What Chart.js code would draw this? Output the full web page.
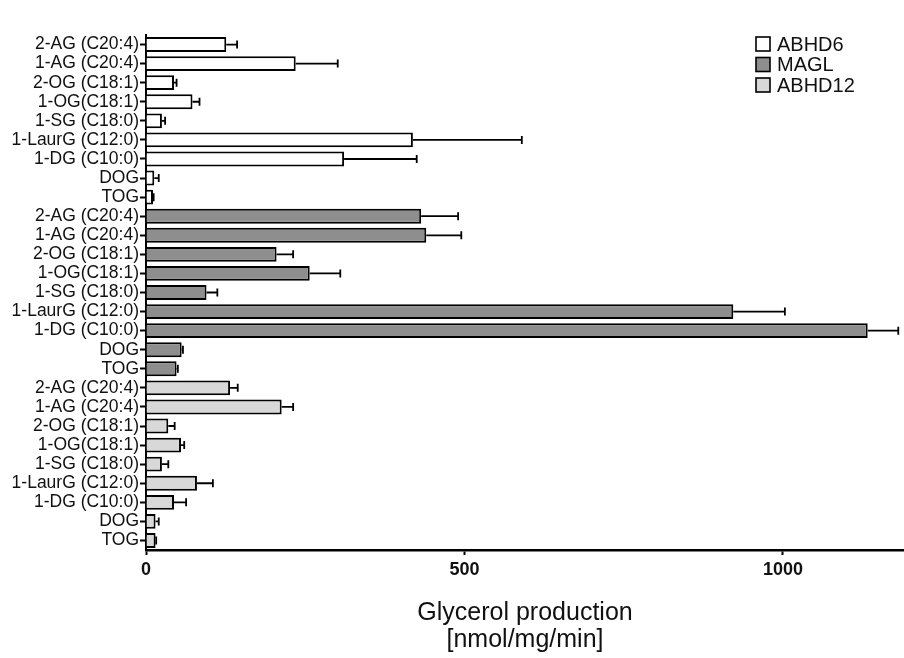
<!DOCTYPE html>
<html>
<head>
<meta charset="utf-8">
<script src="https://cdn.jsdelivr.net/npm/chart.js@4.4.1/dist/chart.umd.min.js"></script>
<style>
  html, body { margin: 0; padding: 0; background: #fff; }
  #wrap { width: 904px; height: 658px; position: relative; }
</style>
</head>
<body>
<div id="wrap"><canvas id="c"></canvas></div>
<script>
const substrates = ['2-AG (C20:4)', '1-AG (C20:4)', '2-OG (C18:1)', '1-OG(C18:1)', '1-SG (C18:0)',
    '1-LaurG (C12:0)', '1-DG (C10:0)', 'DOG', 'TOG'];
const enzymes = ['ABHD6', 'MAGL', 'ABHD12'];

const abhd6 = [126, 235, 44, 73, 25, 419, 311, 13, 11];
const abhd6Err = [17, 66, 4, 11, 5, 171, 114, 7, 1];
const magl = [432, 440, 205, 257, 95, 922, 1133, 56, 48];
const maglErr = [58, 55, 26, 48, 17, 81, 48, 2, 2];
const abhd12 = [132, 213, 35, 55, 25, 80, 44, 15, 15];
const abhd12Err = [12, 18, 10, 5, 10, 25, 19, 5, 1];

const xTicks = [0, 500, 1000];
const xMax = 1190;

const fills = ['#ffffff', '#8e8e8e', '#d8d8d8'];
const FONT = '"Liberation Sans", Arial, Helvetica, sans-serif';

// one row per substrate per enzyme, enzymes stacked top to bottom
const labels = [...substrates, ...substrates, ...substrates];
const pad = (vals, block) => labels.map((_, i) => Math.floor(i / 9) === block ? vals[i % 9] : null);

const values = [abhd6, magl, abhd12];
const errors = [abhd6Err, maglErr, abhd12Err];

const datasets = enzymes.map((name, k) => ({
    label: name,
    data: pad(values[k], k),
    errors: pad(errors[k], k),
    backgroundColor: fills[k],
    borderColor: '#000',
    borderWidth: 2,
    borderSkipped: 'start',
    categoryPercentage: 1,
    barPercentage: 0.78
}));

const errorBars = {
    id: 'errorBars',
    afterDatasetsDraw(chart) {
        const ctx = chart.ctx;
        const xs = chart.scales.x;
        ctx.save();
        ctx.strokeStyle = '#000';
        ctx.lineWidth = 1.8;
        chart.data.datasets.forEach((ds, di) => {
            const meta = chart.getDatasetMeta(di);
            meta.data.forEach((el, i) => {
                const v = ds.data[i];
                if (v === null) return;
                const e = ds.errors[i];
                const x1 = xs.getPixelForValue(v);
                const x2 = xs.getPixelForValue(v + e);
                ctx.beginPath();
                ctx.moveTo(x1, el.y);
                ctx.lineTo(x2, el.y);
                ctx.moveTo(x2, el.y - 4);
                ctx.lineTo(x2, el.y + 4);
                ctx.stroke();
            });
        });
        ctx.restore();
    }
};

// legend in the top right corner, boxes like the bars
const boxLegend = {
    id: 'boxLegend',
    afterDraw(chart) {
        const ctx = chart.ctx;
        ctx.save();
        ctx.font = '20px ' + FONT;
        ctx.textBaseline = 'middle';
        chart.data.datasets.forEach((ds, i) => {
            const y = 44 + i * 20.5;
            ctx.fillStyle = ds.backgroundColor;
            ctx.fillRect(756, y - 7, 14, 14);
            ctx.strokeStyle = '#000';
            ctx.lineWidth = 1.6;
            ctx.strokeRect(756, y - 7, 14, 14);
            ctx.fillStyle = '#111';
            ctx.fillText(ds.label, 777, y + 1);
        });
        ctx.restore();
    }
};

new Chart(document.getElementById('c'), {
    type: 'bar',
    data: { labels, datasets },
    plugins: [errorBars, boxLegend],
    options: {
        indexAxis: 'y',
        responsive: true,
        maintainAspectRatio: false,
        animation: false,
        layout: { padding: { top: 35, right: 0, bottom: 0, left: 0 } },
        plugins: {
            legend: { display: false },
            tooltip: { enabled: false }
        },
        scales: {
            y: {
                stacked: true,
                afterFit(scale) { scale.width = 146; },
                grid: { offset: false, drawOnChartArea: false, tickLength: 6, tickColor: '#000', tickWidth: 2 },
                border: { color: '#000', width: 2 },
                ticks: { color: '#111', padding: 1, autoSkip: false, font: { family: FONT, size: 17.5 } }
            },
            x: {
                stacked: true,
                min: 0,
                max: xMax,
                afterFit(scale) { scale.height = 108; },
                afterBuildTicks(scale) { scale.ticks = xTicks.map(v => ({ value: v })); },
                grid: { drawOnChartArea: false, tickLength: 5, tickColor: '#000', tickWidth: 2 },
                border: { color: '#000', width: 2.5 },
                ticks: {
                    color: '#111', padding: 4,
                    font: { family: FONT, size: 18, weight: 'bold' },
                    callback: v => String(v)
                },
                title: {
                    display: true,
                    text: ['Glycerol production', '[nmol/mg/min]'],
                    color: '#111',
                    padding: { top: 12 },
                    font: { family: FONT, size: 25, lineHeight: 1.1 }
                }
            }
        }
    }
});
</script>
</body>
</html>
